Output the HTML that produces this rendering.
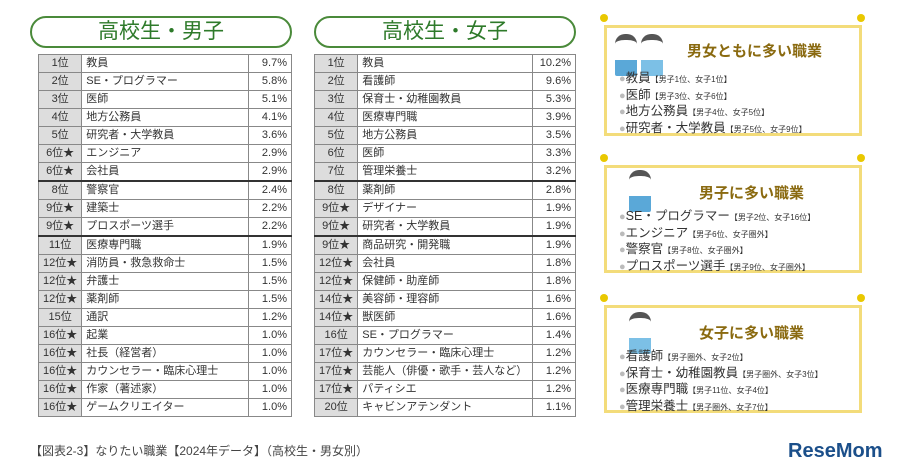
<!DOCTYPE html>
<html><head><meta charset="utf-8">
<style>
body{margin:0;width:900px;height:475px;background:#fff;font-family:"Liberation Sans","Noto Sans CJK JP",sans-serif;position:relative;overflow:hidden;color:#333}
.hdr{position:absolute;top:16px;height:32px;border:2px solid #4a8a3a;border-radius:16px;box-sizing:border-box;text-align:center;font-size:21px;line-height:28px;color:#2e7a2a}
table{position:absolute;top:54px;border-collapse:collapse;font-size:11px}
td{border:1px solid #888;height:17px;padding:0 4px;line-height:17px;white-space:nowrap}
td.r{background:#ddd;text-align:center;width:33px}
td.p{text-align:right;width:34px}
tr.sep td{border-top:2px solid #333}
.box{position:absolute;left:604px;width:258px;border:3px solid #f3dc7a;box-sizing:border-box;background:#fff}
.pin{position:absolute;width:8px;height:8px;border-radius:50%;background:#e9c800}
.bt{position:absolute;left:92px;font-size:15px;font-weight:bold;color:#8a6a10}
.li{position:absolute;left:12px;font-size:12.5px;color:#333}
.li div{height:16.5px;line-height:16.5px;white-space:nowrap}
.li small{font-size:8px}
.li b{color:#bbb;font-weight:normal;font-size:11px}
.face{position:absolute;width:22px;height:36px}
</style></head><body>
<div class="hdr" style="left:30px;width:262px">高校生・男子</div>
<div class="hdr" style="left:314px;width:262px">高校生・女子</div>

<table style="left:38px;width:254px">
<tr><td class="r">1位</td><td>教員</td><td class="p">9.7%</td></tr>
<tr><td class="r">2位</td><td>SE・プログラマー</td><td class="p">5.8%</td></tr>
<tr><td class="r">3位</td><td>医師</td><td class="p">5.1%</td></tr>
<tr><td class="r">4位</td><td>地方公務員</td><td class="p">4.1%</td></tr>
<tr><td class="r">5位</td><td>研究者・大学教員</td><td class="p">3.6%</td></tr>
<tr><td class="r">6位★</td><td>エンジニア</td><td class="p">2.9%</td></tr>
<tr><td class="r">6位★</td><td>会社員</td><td class="p">2.9%</td></tr>
<tr class="sep"><td class="r">8位</td><td>警察官</td><td class="p">2.4%</td></tr>
<tr><td class="r">9位★</td><td>建築士</td><td class="p">2.2%</td></tr>
<tr><td class="r">9位★</td><td>プロスポーツ選手</td><td class="p">2.2%</td></tr>
<tr class="sep"><td class="r">11位</td><td>医療専門職</td><td class="p">1.9%</td></tr>
<tr><td class="r">12位★</td><td>消防員・救急救命士</td><td class="p">1.5%</td></tr>
<tr><td class="r">12位★</td><td>弁護士</td><td class="p">1.5%</td></tr>
<tr><td class="r">12位★</td><td>薬剤師</td><td class="p">1.5%</td></tr>
<tr><td class="r">15位</td><td>通訳</td><td class="p">1.2%</td></tr>
<tr><td class="r">16位★</td><td>起業</td><td class="p">1.0%</td></tr>
<tr><td class="r">16位★</td><td>社長（経営者）</td><td class="p">1.0%</td></tr>
<tr><td class="r">16位★</td><td>カウンセラー・臨床心理士</td><td class="p">1.0%</td></tr>
<tr><td class="r">16位★</td><td>作家（著述家）</td><td class="p">1.0%</td></tr>
<tr><td class="r">16位★</td><td>ゲームクリエイター</td><td class="p">1.0%</td></tr>
</table>

<table style="left:314px;width:262px">
<tr><td class="r">1位</td><td>教員</td><td class="p">10.2%</td></tr>
<tr><td class="r">2位</td><td>看護師</td><td class="p">9.6%</td></tr>
<tr><td class="r">3位</td><td>保育士・幼稚園教員</td><td class="p">5.3%</td></tr>
<tr><td class="r">4位</td><td>医療専門職</td><td class="p">3.9%</td></tr>
<tr><td class="r">5位</td><td>地方公務員</td><td class="p">3.5%</td></tr>
<tr><td class="r">6位</td><td>医師</td><td class="p">3.3%</td></tr>
<tr><td class="r">7位</td><td>管理栄養士</td><td class="p">3.2%</td></tr>
<tr class="sep"><td class="r">8位</td><td>薬剤師</td><td class="p">2.8%</td></tr>
<tr><td class="r">9位★</td><td>デザイナー</td><td class="p">1.9%</td></tr>
<tr><td class="r">9位★</td><td>研究者・大学教員</td><td class="p">1.9%</td></tr>
<tr class="sep"><td class="r">9位★</td><td>商品研究・開発職</td><td class="p">1.9%</td></tr>
<tr><td class="r">12位★</td><td>会社員</td><td class="p">1.8%</td></tr>
<tr><td class="r">12位★</td><td>保健師・助産師</td><td class="p">1.8%</td></tr>
<tr><td class="r">14位★</td><td>美容師・理容師</td><td class="p">1.6%</td></tr>
<tr><td class="r">14位★</td><td>獣医師</td><td class="p">1.6%</td></tr>
<tr><td class="r">16位</td><td>SE・プログラマー</td><td class="p">1.4%</td></tr>
<tr><td class="r">17位★</td><td>カウンセラー・臨床心理士</td><td class="p">1.2%</td></tr>
<tr><td class="r">17位★</td><td>芸能人（俳優・歌手・芸人など）</td><td class="p">1.2%</td></tr>
<tr><td class="r">17位★</td><td>パティシエ</td><td class="p">1.2%</td></tr>
<tr><td class="r">20位</td><td>キャビンアテンダント</td><td class="p">1.1%</td></tr>
</table>

<div class="box" style="top:25px;height:111px">
<div class="face" style="left:8px;top:6px;background:linear-gradient(#fff 0 55%,#5aa8d8 55%);border-radius:10px 10px 2px 2px;border-top:6px solid #555"></div>
<div class="face" style="left:34px;top:6px;background:linear-gradient(#fff 0 55%,#7cc0e6 55%);border-radius:10px 10px 2px 2px;border-top:6px solid #555"></div>
<div class="bt" style="top:12px;left:80px">男女ともに多い職業</div>
<div class="li" style="top:42px"><div><b>●</b>教員<small>【男子1位、女子1位】</small></div><div><b>●</b>医師<small>【男子3位、女子6位】</small></div><div><b>●</b>地方公務員<small>【男子4位、女子5位】</small></div><div><b>●</b>研究者・大学教員<small>【男子5位、女子9位】</small></div></div>
</div>
<div class="box" style="top:165px;height:108px">
<div class="face" style="left:22px;top:2px;background:linear-gradient(#fff 0 55%,#5aa8d8 55%);border-radius:10px 10px 2px 2px;border-top:6px solid #555"></div>
<div class="bt" style="top:14px">男子に多い職業</div>
<div class="li" style="top:40px"><div><b>●</b>SE・プログラマー<small>【男子2位、女子16位】</small></div><div><b>●</b>エンジニア<small>【男子6位、女子圏外】</small></div><div><b>●</b>警察官<small>【男子8位、女子圏外】</small></div><div><b>●</b>プロスポーツ選手<small>【男子9位、女子圏外】</small></div></div>
</div>
<div class="box" style="top:305px;height:108px">
<div class="face" style="left:22px;top:4px;background:linear-gradient(#fff 0 55%,#7cc0e6 55%);border-radius:10px 10px 2px 2px;border-top:6px solid #555"></div>
<div class="bt" style="top:14px">女子に多い職業</div>
<div class="li" style="top:40px"><div><b>●</b>看護師<small>【男子圏外、女子2位】</small></div><div><b>●</b>保育士・幼稚園教員<small>【男子圏外、女子3位】</small></div><div><b>●</b>医療専門職<small>【男子11位、女子4位】</small></div><div><b>●</b>管理栄養士<small>【男子圏外、女子7位】</small></div></div>
</div>
<div class="pin" style="left:600px;top:14px"></div><div class="pin" style="left:857px;top:14px"></div>
<div class="pin" style="left:600px;top:154px"></div><div class="pin" style="left:857px;top:154px"></div>
<div class="pin" style="left:600px;top:294px"></div><div class="pin" style="left:857px;top:294px"></div>

<div style="position:absolute;left:30px;top:442px;font-size:12px;color:#444">【図表2-3】なりたい職業【2024年データ】（高校生・男女別）</div>
<div style="position:absolute;left:788px;top:440px;font-size:20px;font-weight:bold;color:#1b4f8a">ReseMom</div>
</body></html>
